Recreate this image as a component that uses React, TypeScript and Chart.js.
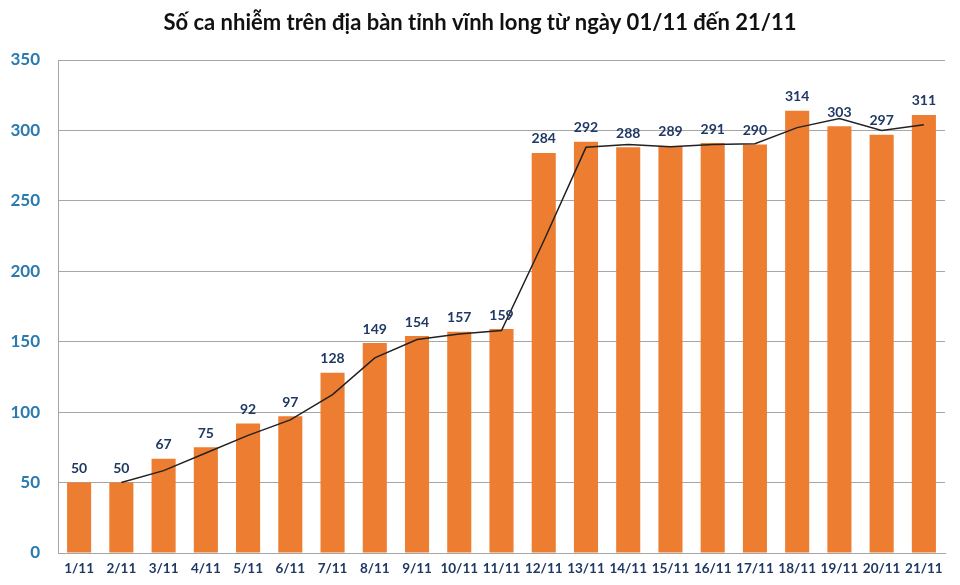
import React, { useEffect, useRef } from "react";
import { Chart, registerables } from "chart.js";

Chart.register(...registerables);

const title = "Số ca nhiễm trên địa bàn tỉnh vĩnh long từ ngày 01/11 đến 21/11";
const categories = ["1/11","2/11","3/11","4/11","5/11","6/11","7/11","8/11","9/11","10/11","11/11","12/11","13/11","14/11","15/11","16/11","17/11","18/11","19/11","20/11","21/11"];
const cases = [50,50,67,75,92,97,128,149,154,157,159,284,292,288,289,291,290,314,303,297,311];
const trend = [null,50,58.5,71,83.5,94.5,112.5,138.5,151.5,155.5,158,221.5,288,290,288.5,290,290.5,302,308.5,300,304];
const yTicks = [0,50,100,150,200,250,300,350];

const FONT = "Lato, 'Open Sans', sans-serif";

export default function App() {
  const ref = useRef<HTMLCanvasElement | null>(null);
  useEffect(() => {
    document.body.style.margin = "0";
    const labelPlugin = {
      id: "valueLabels",
      afterDatasetsDraw(chart: any) {
        const ctx = chart.ctx;
        const meta = chart.getDatasetMeta(1);
        ctx.save();
        ctx.font = `bold 14px ${FONT}`;
        ctx.fillStyle = "#1f3864";
        ctx.textAlign = "center";
        ctx.textBaseline = "bottom";
        meta.data.forEach((bar: any, i: number) => {
          ctx.fillText(String(cases[i]), bar.x, bar.y - 7);
        });
        ctx.restore();
      },
    };
    const titlePlugin = {
      id: "topTitle",
      afterDraw(chart: any) {
        const ctx = chart.ctx;
        ctx.save();
        ctx.font = `bold 22px ${FONT}`;
        ctx.fillStyle = "#111111";
        ctx.textAlign = "center";
        ctx.textBaseline = "middle";
        ctx.fillText(title, 480, 23);
        ctx.restore();
      },
    };
    const chart = new Chart(ref.current as HTMLCanvasElement, {
      type: "bar",
      data: {
        labels: categories,
        datasets: [
          {
            type: "line",
            data: trend as any,
            borderColor: "#222222",
            borderWidth: 1.5,
            pointRadius: 0,
            fill: false,
            tension: 0,
            order: 0,
          } as any,
          {
            type: "bar",
            data: cases,
            backgroundColor: "#ED7D31",
            categoryPercentage: 1,
            barPercentage: 0.57,
            order: 1,
          },
        ],
      },
      options: {
        animation: false,
        responsive: false,
        maintainAspectRatio: false,
        layout: { padding: { top: 60, right: 15, left: 0, bottom: 0 } },
        plugins: { legend: { display: false }, tooltip: { enabled: false }, title: { display: false } },
        scales: {
          x: {
            grid: { display: false, drawTicks: false },
            border: { display: true, color: "#a6a6a6", width: 1 },
            ticks: { color: "#1f3864", font: { family: FONT, size: 13.5, weight: "bold" }, padding: 8, maxRotation: 0, autoSkip: false },
            afterFit: (s: any) => { s.height = 32; },
          },
          y: {
            min: 0,
            max: 350,
            afterBuildTicks: (s: any) => { s.ticks = yTicks.map((v) => ({ value: v })); },
            grid: { color: "#a6a6a6", lineWidth: 1, drawTicks: false },
            border: { display: true, color: "#a6a6a6", width: 1 },
            ticks: { color: "#2a7ab0", font: { family: FONT, size: 17, weight: "bold" }, padding: 18 },
            afterFit: (s: any) => { s.width = 58; },
          },
        },
      },
      plugins: [labelPlugin, titlePlugin],
    });
    return () => chart.destroy();
  }, []);
  return (
    <div style={{ width: 960, height: 585, background: "#fff" }}>
      <canvas ref={ref} width={960} height={585} style={{ width: 960, height: 585 }} />
    </div>
  );
}
